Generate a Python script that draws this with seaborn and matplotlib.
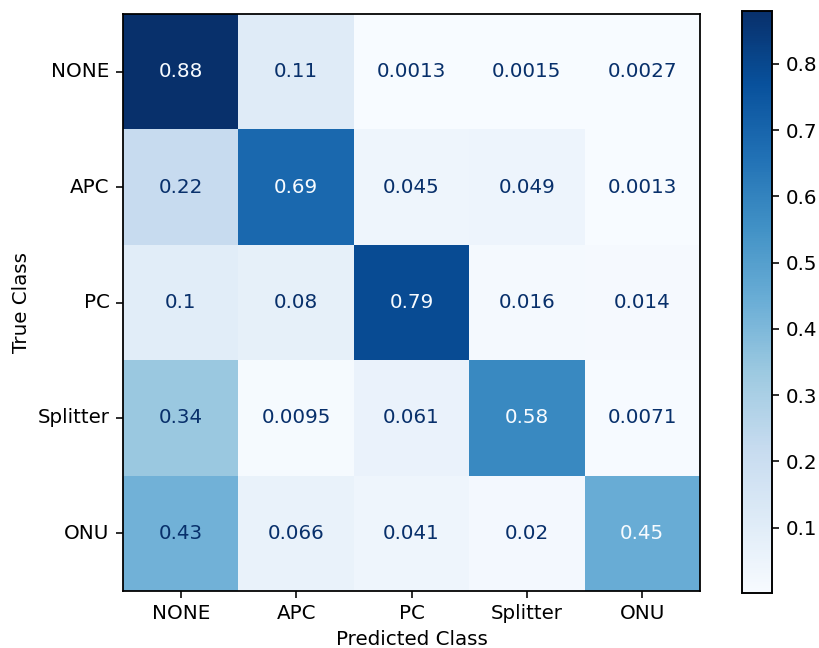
import numpy as np
import pandas as pd
import matplotlib
matplotlib.use("Agg")
import matplotlib.pyplot as plt
import seaborn as sns

classes = ["NONE", "APC", "PC", "Splitter", "ONU"]
row_none = [0.88, 0.11, 0.0013, 0.0015, 0.0027]
row_apc = [0.22, 0.69, 0.045, 0.049, 0.0013]
row_pc = [0.1, 0.08, 0.79, 0.016, 0.014]
row_splitter = [0.34, 0.0095, 0.061, 0.58, 0.0071]
row_onu = [0.43, 0.066, 0.041, 0.02, 0.45]

cm = pd.DataFrame([row_none, row_apc, row_pc, row_splitter, row_onu],
                  index=classes, columns=classes)

sns.set_style("white")
plt.rcParams["font.family"] = ["DejaVu Sans"]
plt.rcParams["font.size"] = 11
plt.rcParams["text.color"] = "black"
plt.rcParams["axes.labelcolor"] = "black"
plt.rcParams["xtick.color"] = "black"
plt.rcParams["ytick.color"] = "black"

W, H, DPI = 819, 648, 128
FS = 11.2
fig = plt.figure(figsize=(W / DPI, H / DPI), dpi=DPI)
ax = fig.add_axes([123 / W, 1 - 591 / H, 577 / W, 577 / H])
cax = fig.add_axes([742 / W, 1 - 593 / H, 30 / W, 582 / H])

vmin, vmax = cm.values.min(), cm.values.max()
cmap = plt.get_cmap("Blues")
sns.heatmap(cm, ax=ax, cbar_ax=cax, cmap=cmap, vmin=vmin, vmax=vmax,
            annot=True, fmt=".2g", annot_kws={"fontsize": FS}, square=False)

# text colour switches at the midpoint of the colour range
thresh = (vmin + vmax) / 2
for txt, val in zip(ax.texts, cm.values.ravel()):
    txt.set_color(cmap(0.0) if val >= thresh else cmap(1.0))

for s in ax.spines.values():
    s.set_visible(True)
    s.set_color("black")
    s.set_linewidth(1.0)
ax.tick_params(axis="both", length=4, width=0.9, left=True, bottom=True,
               labelsize=FS, color="black", labelcolor="black")
ax.set_yticklabels(classes, rotation=0)
ax.set_xticklabels(classes, rotation=0)
ax.set_xlabel("Predicted Class", fontsize=FS, color="black")
ax.set_ylabel("True Class", fontsize=FS, color="black")

cax.set_yticks([0.1, 0.2, 0.3, 0.4, 0.5, 0.6, 0.7, 0.8])
cax.tick_params(axis="y", length=4, width=0.9, right=True, labelsize=FS,
                color="black", labelcolor="black")
for s in cax.spines.values():
    s.set_visible(True)
    s.set_color("black")
    s.set_linewidth(0.9)

fig.savefig("out.png", dpi=DPI)
